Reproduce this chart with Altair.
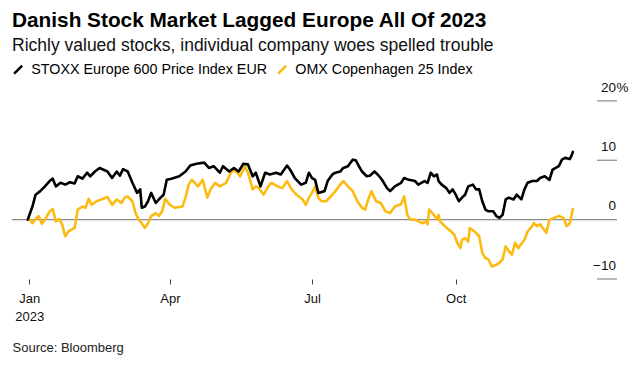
import altair as alt
import pandas as pd

FONT = "Liberation Sans"

series_names = ["STOXX Europe 600 Price Index EUR", "OMX Copenhagen 25 Index"]
series_colors = ["#000000", "#fbbb12"]

# day offsets from 2023-01-01 and % change since start of year
stoxx_days = [-1, 2, 4, 7, 10, 13, 15, 17, 20, 23, 26, 29, 31, 34, 37, 39, 42, 45, 50, 53,
              56, 58, 60, 63, 66, 69, 71, 72, 74, 76, 78, 81, 84, 86, 88, 91, 96, 100, 103, 107,
              112, 115, 118, 122, 124, 128, 131, 134, 137, 140, 143, 145, 148, 151, 154, 158, 161, 165, 167, 170,
              174, 177, 179, 181, 183, 185, 189, 191, 194, 196, 199, 201, 204, 207, 209, 211, 213, 216, 218, 221,
              223, 225, 227, 229, 231, 234, 238, 240, 243, 247, 249, 253, 255, 257, 259, 261, 262, 264, 267, 269,
              271, 273, 275, 277, 279, 281, 284, 286, 288, 290, 292, 294, 297, 299, 301, 303, 305, 307, 310, 312,
              315, 317, 319, 322, 325, 327, 330, 333, 335, 337, 339, 341, 343, 346, 347, 348]
stoxx_vals = [0.0, 2.2, 4.2, 4.8, 5.6, 6.5, 6.9, 5.6, 6.2, 5.9, 6.3, 6.1, 7.3, 6.9, 7.9, 7.3, 8.1, 8.7, 8.1, 7.0,
              8.1, 7.4, 8.5, 8.1, 6.2, 4.5, 5.1, 2.0, 2.2, 3.1, 4.5, 2.8, 3.7, 4.2, 6.7, 6.9, 7.3, 8.1, 9.1, 9.4,
              9.6, 8.7, 9.0, 7.9, 9.0, 8.1, 8.7, 8.1, 9.4, 9.3, 7.3, 7.9, 5.6, 7.9, 7.6, 7.9, 7.6, 9.1, 8.4, 7.0,
              5.9, 6.2, 7.9, 7.0, 6.7, 4.5, 4.8, 6.5, 7.6, 7.9, 8.1, 8.7, 9.0, 10.1, 10.0, 9.0, 8.1, 7.3, 7.4, 8.1,
              7.6, 7.0, 6.2, 5.3, 4.8, 5.6, 6.2, 7.0, 6.7, 6.5, 5.9, 6.5, 6.2, 7.9, 7.3, 7.6, 6.5, 5.9, 5.3, 4.5,
              5.1, 4.2, 3.1, 3.7, 4.2, 5.6, 5.9, 5.1, 5.1, 3.1, 1.7, 1.4, 1.4, 0.6, 0.3, 0.8, 3.4, 3.7, 3.4, 4.2,
              3.4, 5.1, 6.2, 6.5, 6.5, 7.0, 7.3, 6.7, 8.4, 8.7, 9.0, 10.1, 10.4, 10.2, 10.7, 11.4]

omx_days = [0, 2, 4, 6, 8, 10, 13, 15, 17, 19, 21, 23, 25, 27, 29, 31, 34, 36, 38, 40,
            43, 46, 50, 53, 56, 59, 61, 63, 66, 68, 70, 72, 74, 76, 78, 81, 83, 85, 87, 90,
            93, 98, 100, 102, 104, 106, 108, 111, 114, 116, 119, 122, 126, 129, 131, 133, 135, 138, 140, 143,
            145, 147, 150, 153, 155, 159, 162, 165, 168, 171, 175, 177, 179, 181, 183, 185, 187, 190, 193, 196,
            199, 201, 203, 207, 210, 213, 215, 217, 219, 222, 225, 228, 231, 234, 238, 240, 242, 244, 247, 249,
            252, 254, 255, 256, 259, 261, 262, 263, 266, 270, 272, 274, 276, 277, 279, 281, 282, 285, 288, 290,
            292, 294, 296, 299, 301, 303, 305, 307, 309, 311, 313, 317, 319, 321, 323, 325, 327, 331, 333, 336,
            339, 342, 344, 346, 348]
omx_vals = [0.1, -0.6, 0.1, 0.6, -0.7, 0.0, 1.4, 1.8, -0.3, 0.1, -0.8, -2.8, -2.0, -1.7, -1.4, 1.7, 2.2, 2.0, 3.5, 2.5,
            3.1, 3.4, 3.8, 2.5, 3.4, 2.8, 3.7, 3.9, 3.1, 1.1, 0.0, -0.6, -1.4, -0.6, 0.6, 1.1, 0.6, 1.4, 3.5, 2.5,
            2.0, 2.2, 3.7, 5.9, 6.7, 6.2, 5.6, 6.7, 3.7, 5.1, 6.2, 5.6, 6.2, 7.9, 8.4, 7.9, 7.3, 9.0, 7.9, 5.1,
            5.6, 5.3, 4.2, 5.6, 6.2, 5.6, 5.3, 6.5, 5.1, 4.2, 3.4, 2.5, 3.7, 4.5, 5.6, 3.7, 3.1, 3.1, 3.9, 4.8,
            5.9, 6.5, 5.9, 4.8, 3.1, 2.0, 1.7, 3.4, 4.8, 3.1, 2.8, 1.4, 1.1, 2.2, 2.6, 3.9, 0.8, 0.0, 0.0, -0.3,
            -0.6, -0.3, -0.8, 1.7, 0.8, 0.0, 0.8, -0.3, -1.1, -2.0, -2.5, -3.9, -4.8, -3.4, -3.1, -3.7, -1.4, -2.0, -2.8, -5.6,
            -6.5, -6.7, -7.9, -7.6, -7.3, -6.7, -4.5, -5.3, -5.9, -3.9, -4.8, -3.4, -2.0, -1.4, -0.6, -1.1, -0.8, -2.2, 0.0, 0.3,
            0.6, 0.3, -1.1, -0.6, 1.8]

y_ticks = [20, 10, 0, -10]
x_tick_months = [1, 4, 7, 10]

base = pd.Timestamp("2023-01-01")
df = pd.concat([
    pd.DataFrame({"date": base + pd.to_timedelta(stoxx_days, unit="D"), "value": stoxx_vals,
                  "series": series_names[0]}),
    pd.DataFrame({"date": base + pd.to_timedelta(omx_days, unit="D"), "value": omx_vals,
                  "series": series_names[1]}),
])
ticks_df = pd.DataFrame({"v": y_ticks})

W, H = 605, 190
x_scale = alt.Scale(domain=[alt.DateTime(year=2022, month=12, date=20, hours=22),
                            alt.DateTime(year=2024, month=1, date=12, hours=6)])
y_scale = alt.Scale(domain=[-10, 22], nice=False, zero=False)
color_scale = alt.Scale(domain=series_names, range=series_colors)

x_axis = alt.Axis(
    values=[alt.DateTime(year=2023, month=m, date=1) for m in x_tick_months],
    labelExpr="month(datum.value) == 0 ? ['Jan', '2023'] : timeFormat(datum.value, '%b')",
    domain=False, grid=False, ticks=True, tickSize=5, tickColor="#444", tickWidth=1,
    labelFont=FONT, labelFontSize=13, labelColor="#111", labelPadding=8.5,
    labelLineHeight=18.4, labelFlush=False, labelOverlap=False, labelBound=False,
    title="Source: Bloomberg", titleX=0, titleY=72.3, titleAlign="left", titleAnchor="start",
    titleBaseline="alphabetic", titleFont=FONT, titleFontSize=13, titleFontWeight="normal",
    titleColor="#222", titleAngle=0,
)

legend = alt.Legend(
    orient="none", legendX=-1, legendY=-27, direction="horizontal", columns=2,
    title=None, symbolType="M-1,1L1,-1", symbolSize=64, symbolStrokeWidth=2.5,
    labelFont=FONT, labelFontSize=14.3, labelColor="#000", labelOffset=6, columnPadding=5,
    labelLimit=500, padding=0,
)

zero_line = alt.Chart(pd.DataFrame({"v": [0]})).mark_rule(color="#8a8a8a", strokeWidth=1.2).encode(
    y=alt.Y("v:Q", scale=y_scale, axis=None)
)
tick_rules = alt.Chart(ticks_df).transform_filter("datum.v != 0").mark_rule(
    color="#8a8a8a", strokeWidth=1.2
).encode(
    y=alt.Y("v:Q", scale=y_scale, axis=None),
    x=alt.value(585), x2=alt.value(W),
)

def line_layer(name):
    return alt.Chart(df).transform_filter(alt.datum.series == name).mark_line(
        strokeWidth=2.6, strokeJoin="round", strokeCap="round"
    ).encode(
        x=alt.X("date:T", scale=x_scale, axis=x_axis),
        y=alt.Y("value:Q", scale=y_scale, axis=None),
        color=alt.Color("series:N", scale=color_scale, legend=legend, sort=series_names),
    )

omx_line = line_layer(series_names[1])
stoxx_line = line_layer(series_names[0])

y_labels = alt.Chart(ticks_df).mark_text(
    align="right", baseline="alphabetic", dy=-9.3, font=FONT, fontSize=13.5, color="#111"
).encode(
    y=alt.Y("v:Q", scale=y_scale, axis=None),
    x=alt.value(W - 1),
    text=alt.Text("v:Q"),
)
pct_label = alt.Chart(ticks_df).transform_filter("datum.v == 20").mark_text(
    align="left", baseline="alphabetic", dy=-9.3, font=FONT, fontSize=13.5, color="#111"
).encode(
    y=alt.Y("v:Q", scale=y_scale, axis=None),
    x=alt.value(W - 0.5),
    text=alt.value("%"),
)

chart = alt.layer(zero_line, tick_rules, omx_line, stoxx_line, y_labels, pct_label).properties(
    width=W, height=H,
    background="white",
    padding={"left": 4, "top": 81, "right": 14, "bottom": 78},
    autosize=alt.AutoSizeParams(type="none"),
    title=alt.TitleParams(
        text="Danish Stock Market Lagged Europe All Of 2023",
        subtitle="Richly valued stocks, individual company woes spelled trouble",
        anchor="start", frame="group", offset=6,
        font=FONT, fontSize=20.8, fontWeight="bold", color="#000",
        subtitleFont=FONT, subtitleFontSize=17.5, subtitleColor="#111", subtitlePadding=6,
    ),
).configure_view(strokeWidth=0, stroke="transparent")

chart.save("out.html", embed_options={"renderer": "svg", "actions": False})
